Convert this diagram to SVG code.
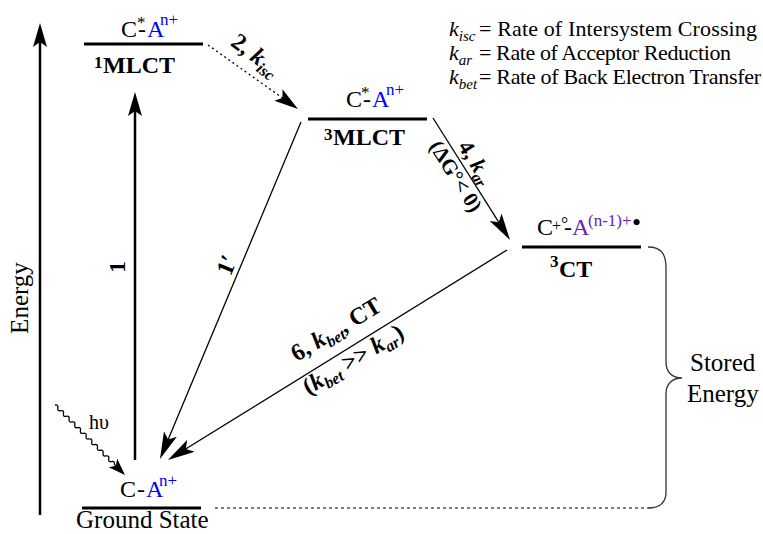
<svg xmlns="http://www.w3.org/2000/svg" width="763" height="534" viewBox="0 0 763 534">
<style>
text{font-family:"Liberation Serif","Times New Roman",serif;fill:#000}
.f24{font-size:24px}
.f25{font-size:25px}
.f22{font-size:22px}
.b{font-weight:bold}
.i{font-style:italic}
.blue{fill:#0000ff}
.pur{fill:#6322c0}
.lvl{stroke:#000;stroke-width:3}
.thick{stroke:#000;stroke-width:2.5;fill:none}
.thin{stroke:#000;stroke-width:1.3;fill:none}
.dot{stroke:#000;stroke-width:1.3;stroke-dasharray:2,3;fill:none}
.gdot{stroke:#555;stroke-width:1.3;stroke-dasharray:3,3;fill:none}
</style>
<defs>
<marker id="ah" viewBox="0 -7 24 14" markerWidth="24" markerHeight="14" refX="14" refY="0" orient="auto" markerUnits="userSpaceOnUse"><path d="M0,-7 L24,0 L0,7 L5,0 z" fill="#000"/></marker>
<marker id="ahs" viewBox="0 -7 27 14" markerWidth="27" markerHeight="14" refX="20" refY="0" orient="auto" markerUnits="userSpaceOnUse"><path d="M0,-7 L27,0 L0,7 L6,0 z" fill="#000"/></marker>
<marker id="ahd" viewBox="0 -7 24 14" markerWidth="24" markerHeight="14" refX="18" refY="0" orient="auto" markerUnits="userSpaceOnUse"><path d="M0,-7 L24,0 L0,7 L5,0 z" fill="#000"/></marker>
</defs>

<g id="energy-axis">
<line class="thick" x1="40" y1="515" x2="40" y2="33" marker-end="url(#ah)"/>
<text class="f25" transform="translate(28,298) rotate(-90)" text-anchor="middle">Energy</text>
</g>

<g id="legend">
<text x="449" y="36" class="f22"><tspan class="i">k</tspan><tspan class="i" font-size="15" dy="5">isc</tspan><tspan x="479" dy="-5" textLength="278" lengthAdjust="spacing">= Rate of Intersystem Crossing</tspan></text>
<text x="449" y="60" class="f22"><tspan class="i">k</tspan><tspan class="i" font-size="15" dy="5">ar</tspan><tspan x="479" dy="-5" textLength="252" lengthAdjust="spacing">= Rate of Acceptor Reduction</tspan></text>
<text x="449" y="84" class="f22"><tspan class="i">k</tspan><tspan class="i" font-size="15" dy="5">bet</tspan><tspan x="479" dy="-5" textLength="282" lengthAdjust="spacing">= Rate of Back Electron Transfer</tspan></text>
</g>

<g id="mlct1">
<line class="lvl" x1="84" y1="44" x2="203" y2="44"/>
<text class="f24" x="121" y="37">C<tspan x="137" y="28" font-size="17">*</tspan><tspan x="138" y="37">-</tspan><tspan class="blue" x="147" y="37">A</tspan><tspan class="blue" x="160" y="25" font-size="17">n+</tspan></text>
<text class="b" x="94" y="68" font-size="17">1</text>
<text class="b f24" x="103" y="73">MLCT</text>
</g>

<g id="mlct3">
<line class="lvl" x1="308" y1="119" x2="427" y2="119"/>
<text class="f24" x="346" y="107">C<tspan x="361" y="98" font-size="17">*</tspan><tspan x="363" y="107">-</tspan><tspan class="blue" x="372" y="107">A</tspan><tspan class="blue" x="386" y="95" font-size="17">n+</tspan></text>
<text class="b" x="324" y="140" font-size="17">3</text>
<text class="b f24" x="333" y="145">MLCT</text>
</g>

<g id="ct3">
<line class="lvl" x1="522" y1="247" x2="641" y2="247"/>
<text class="f24" x="537" y="235">C<tspan x="552" y="231" font-size="16">+</tspan><tspan x="561" y="230" font-size="18">°</tspan><tspan x="564" y="235">-</tspan><tspan class="pur" x="572" y="235">A</tspan><tspan class="pur" x="588" y="226" font-size="17">(n-1)+</tspan><tspan x="632" y="231" font-size="26">•</tspan></text>
<text class="b" x="550" y="267" font-size="17">3</text>
<text class="b f24" x="559" y="277">CT</text>
</g>

<g id="ground">
<line class="lvl" x1="82" y1="508" x2="201" y2="508"/>
<text class="f24" x="120" y="497">C<tspan x="137">-</tspan><tspan class="blue" x="146">A</tspan><tspan class="blue" x="159" y="486" font-size="17">n+</tspan></text>
<text class="f25" x="76" y="528">Ground State</text>
</g>

<g id="stored-energy">
<path d="M648,247 C662,247 666,255 666,268 L666,362 C666,372 672,378 682,378 C672,378 666,384 666,394 L666,492 C666,503 660,508 648,508" stroke="#333" stroke-width="1.3" fill="none"/>
<text class="f25" x="690" y="371">Stored</text>
<text class="f25" x="687" y="402">Energy</text>
</g>

<g id="connectors">
<line class="thick" x1="135" y1="460" x2="135" y2="102" marker-end="url(#ah)"/>
<line class="dot" x1="208" y1="45" x2="293.1" y2="105.5" marker-end="url(#ahd)"/>
<line class="thin" x1="301" y1="122" x2="162.7" y2="452.5" marker-end="url(#ahs)"/>
<line class="thin" x1="433" y1="118" x2="506.3" y2="234.1" marker-end="url(#ahs)"/>
<line class="thin" x1="507" y1="250" x2="173.9" y2="456.3" marker-end="url(#ahs)"/>
<line class="gdot" x1="215" y1="508" x2="650" y2="508"/>
<g transform="translate(55,405) rotate(45)">
<path class="thin" stroke-width="1.1" d="M0,0 q2,-3 4,0 t4,0 t4,0 t4,0 t4,0 t4,0 t4,0 t4,0 t4,0 t4,0 t4,0 t4,0 t4,0 t4,0 t4,0 t4,0 t4,0 t4,0 t4,0 t4,0 t4,0 L87,0"/>
<path d="M99,0 L82,-6 L86,0 L82,6 z" fill="#000"/>
</g>
<text x="89" y="429" font-size="20">hυ</text>
<text class="b f24" transform="translate(125,267) rotate(-90)" text-anchor="middle">1</text>
<text class="b f24" transform="translate(234,268) rotate(-67.4)" text-anchor="middle">1′</text>
<text class="b f24" transform="translate(251,61) rotate(37)" text-anchor="middle">2, <tspan class="i">k</tspan><tspan class="i" font-size="16" dy="5">isc</tspan></text>
<text class="b f22" transform="translate(470,166) rotate(57.7)" text-anchor="middle">4, <tspan class="i">k</tspan><tspan class="i" font-size="15" dy="5">ar</tspan></text>
<text class="b" font-size="21" transform="translate(450,180) rotate(57.7)" text-anchor="middle">(ΔG°&lt; 0)</text>
<text class="b f24" transform="translate(340,336) rotate(-31)" text-anchor="middle">6, <tspan class="i">k</tspan><tspan class="i" font-size="16" dy="5">bet</tspan><tspan dy="-5">, CT</tspan></text>
<text class="b f24" transform="translate(357,366) rotate(-31)" text-anchor="middle">(<tspan class="i">k</tspan><tspan class="i" font-size="16" dy="5">bet</tspan><tspan dy="-5"> &gt;&gt; </tspan><tspan class="i">k</tspan><tspan class="i" font-size="16" dy="5">ar</tspan><tspan dy="-5">)</tspan></text>
</g>
</svg>
